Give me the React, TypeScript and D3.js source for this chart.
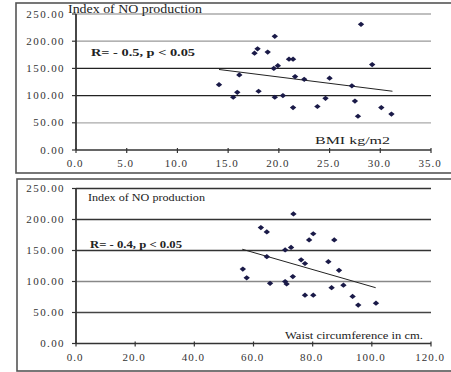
import React from "react";
import * as d3 from "d3";

// Panel 1: BMI vs Index of NO production
const bmiX = [14.1, 16.1, 15.9, 15.5, 18.0, 17.6, 17.9, 18.9, 19.6, 19.5, 19.9, 19.6, 20.4, 21.0, 21.4, 21.6, 21.4, 22.5, 23.8, 24.6, 25.0, 27.2, 27.5, 27.8, 28.1, 29.2, 30.1, 31.1];
const bmiY = [120, 138, 106, 97, 108, 178, 186, 180, 209, 150, 155, 97, 100, 167, 167, 135, 78, 130, 80, 95, 132, 118, 90, 62, 231, 157, 78, 66];
const bmiTrendX = [14.1, 31.2];
const bmiTrendY = [148, 108];

// Panel 2: Waist circumference vs Index of NO production
const waistX = [56.4, 57.7, 62.5, 64.5, 64.5, 65.6, 70.7, 72.7, 70.7, 71.2, 73.3, 73.5, 76.1, 77.4, 77.4, 78.8, 80.2, 80.2, 85.3, 86.4, 87.3, 88.9, 90.4, 93.5, 95.4, 101.4];
const waistY = [120, 106, 187, 180, 140, 97, 151, 155, 100, 96, 108, 209, 135, 129, 78, 167, 177, 78, 132, 90, 167, 118, 94, 76, 62, 65];
const waistTrendX = [56.2, 101.3];
const waistTrendY = [152, 90];

const yTicks = [0, 50, 100, 150, 200, 250];
const bmiTicks = [0, 5, 10, 15, 20, 25, 30, 35];
const waistTicks = [0, 20, 40, 60, 80, 100, 120];

const FONT = "'Liberation Serif', 'DejaVu Serif', serif";

type PanelProps = {
  xs: number[];
  ys: number[];
  tx: number[];
  ty: number[];
  xTicks: number[];
  xMax: number;
  yTop: number;
  yBottom: number;
  gridColors: string[];
  title: string;
  titleX: number;
  titleY: number;
  titleLen: number;
  titleSize: number;
  stat: string;
  statX: number;
  statY: number;
  statLen: number;
  xlab: string;
  xlabX: number;
  xlabY: number;
  xlabLen: number;
  rect: [number, number, number, number];
};

function Panel(p: PanelProps) {
  const x = d3.scaleLinear().domain([0, p.xMax]).range([76, 431]);
  const y = d3.scaleLinear().domain([0, 250]).range([p.yBottom, p.yTop]);
  const line = d3
    .line<number>()
    .x((_, i) => x(p.tx[i]))
    .y((_, i) => y(p.ty[i]));
  const [rx, ry, rw, rh] = p.rect;
  return (
    <g>
      <rect x={rx} y={ry} width={rw} height={rh} fill="none" stroke="#555" strokeWidth={1.6} />
      {yTicks.map((t, i) =>
        t === 0 ? null : (
          <line key={"g" + t} x1={x(0)} x2={x(p.xMax)} y1={y(t)} y2={y(t)} stroke={p.gridColors[i]} strokeWidth={1.3} />
        )
      )}
      {/* y axis */}
      <line x1={x(0)} x2={x(0)} y1={y(250)} y2={y(0)} stroke="#333" strokeWidth={1.8} />
      {yTicks.map((t) => (
        <line key={"yt" + t} x1={x(0) - 4} x2={x(0)} y1={y(t)} y2={y(t)} stroke="#333" strokeWidth={1.2} />
      ))}
      {yTicks.map((t) => (
        <text
          key={"yl" + t}
          x={65}
          y={y(t) + 3.5}
          textAnchor="end"
          fontFamily={FONT}
          fontSize={11}
          letterSpacing={1.4}
          fill="#333"
        >
          {d3.format(".2f")(t)}
        </text>
      ))}
      {/* x axis */}
      <line x1={x(0)} x2={x(p.xMax)} y1={y(0)} y2={y(0)} stroke="#333" strokeWidth={1.5} />
      {p.xTicks.map((t) => (
        <line key={"xt" + t} x1={x(t)} x2={x(t)} y1={y(0) - 2} y2={y(0) + 3} stroke="#333" strokeWidth={1.2} />
      ))}
      {p.xTicks.map((t) => (
        <text
          key={"xl" + t}
          x={x(t) - 1}
          y={y(0) + 17}
          textAnchor="middle"
          fontFamily={FONT}
          fontSize={11}
          letterSpacing={1}
          fill="#333"
        >
          {d3.format(".1f")(t)}
        </text>
      ))}
      {/* trend */}
      <path d={line(p.tx) || ""} fill="none" stroke="#222" strokeWidth={1} />
      {/* points */}
      {p.xs.map((v, i) => {
        const cx = x(v);
        const cy = y(p.ys[i]);
        return (
          <path
            key={"p" + i}
            d={`M${cx - 3.2},${cy}L${cx},${cy - 2.6}L${cx + 3.2},${cy}L${cx},${cy + 2.6}Z`}
            fill="#1a1a48"
          />
        );
      })}
      <text
        x={p.titleX}
        y={p.titleY}
        fontFamily={FONT}
        fontSize={p.titleSize}
        fill="#222"
        textLength={p.titleLen}
        lengthAdjust="spacingAndGlyphs"
      >
        {p.title}
      </text>
      <text
        x={p.statX}
        y={p.statY}
        fontFamily={FONT}
        fontSize={10}
        fontWeight="bold"
        fill="#222"
        textLength={p.statLen}
        lengthAdjust="spacingAndGlyphs"
      >
        {p.stat}
      </text>
      <text
        x={p.xlabX}
        y={p.xlabY}
        fontFamily={FONT}
        fontSize={10}
        fill="#222"
        textLength={p.xlabLen}
        lengthAdjust="spacingAndGlyphs"
      >
        {p.xlab}
      </text>
    </g>
  );
}

export default function App() {
  return (
    <svg
      width={451}
      height={372}
      style={{ position: "absolute", left: 0, top: 0, background: "#fff" }}
    >
      <rect width={451} height={372} fill="#fff" />
      <Panel
        xs={bmiX}
        ys={bmiY}
        tx={bmiTrendX}
        ty={bmiTrendY}
        xTicks={bmiTicks}
        xMax={35}
        yTop={14}
        yBottom={150}
        gridColors={["", "#aaa", "#222", "#222", "#999", "#aaa"]}
        title="Index of NO production"
        titleX={68}
        titleY={13}
        titleLen={134}
        titleSize={12}
        stat="R= - 0.5, p < 0.05"
        statX={91}
        statY={56}
        statLen={104}
        xlab="BMI kg/m2"
        xlabX={315}
        xlabY={144}
        xlabLen={75}
        rect={[16, 3, 440, 170]}
      />
      <Panel
        xs={waistX}
        ys={waistY}
        tx={waistTrendX}
        ty={waistTrendY}
        xTicks={waistTicks}
        xMax={120}
        yTop={188.5}
        yBottom={343.5}
        gridColors={["", "#444", "#888", "#333", "#333", "#333"]}
        title="Index of NO production"
        titleX={88}
        titleY={201}
        titleLen={117}
        titleSize={10}
        stat="R= - 0.4, p < 0.05"
        statX={90}
        statY={248}
        statLen={92}
        xlab="Waist circumference in cm."
        xlabX={285}
        xlabY={339}
        xlabLen={138}
        rect={[17, 179, 440, 192]}
      />
    </svg>
  );
}
